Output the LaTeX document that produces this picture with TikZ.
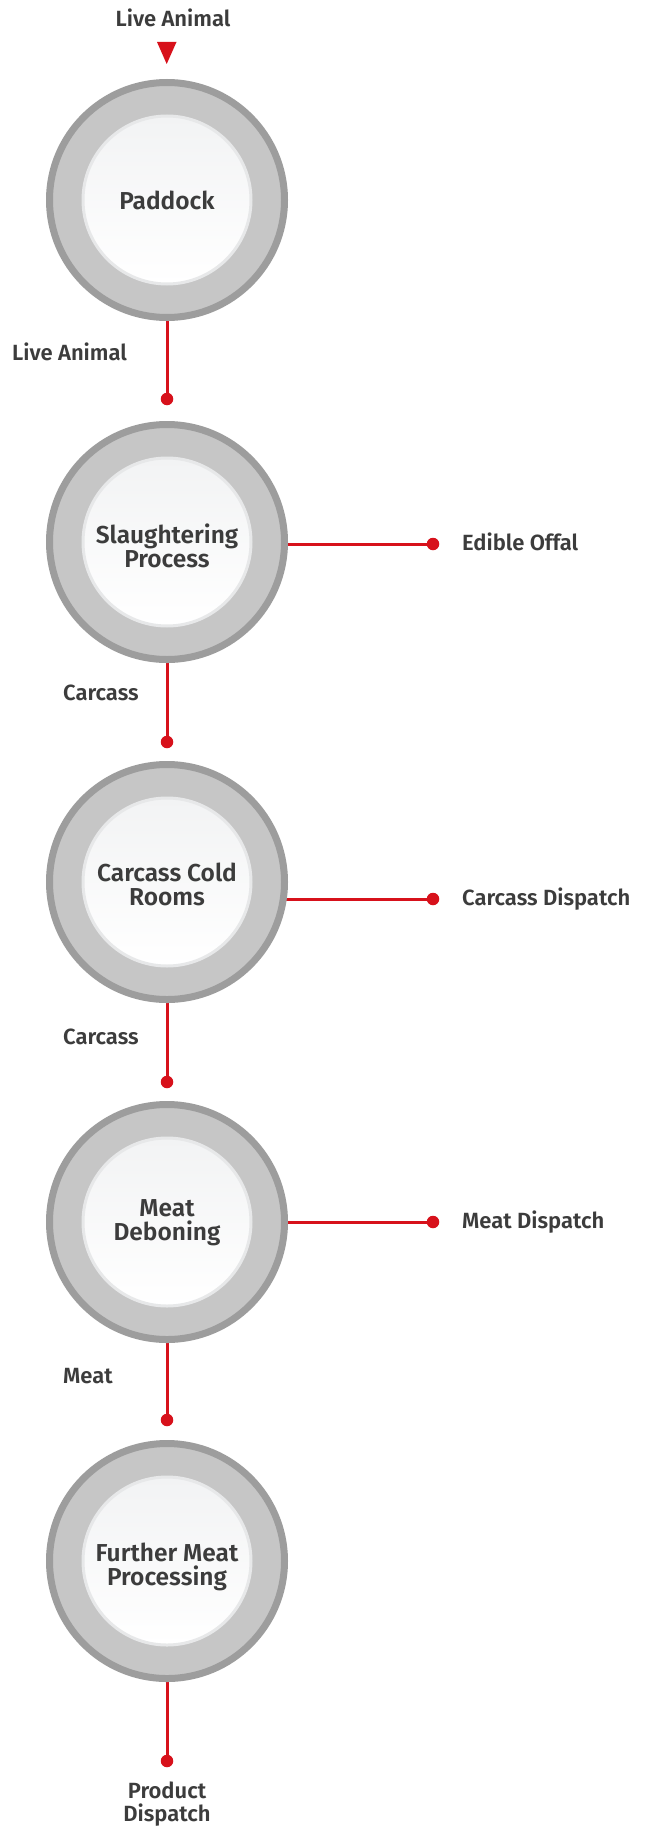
\documentclass[tikz,border=0pt]{standalone}
\usepackage{fontspec}
\setmainfont{Fira Sans}[BoldFont={Fira Sans SemiBold}]
\usetikzlibrary{backgrounds}
\definecolor{ringdark}{HTML}{9D9D9D}
\definecolor{ringfill}{HTML}{C6C6C6}
\definecolor{innerline}{HTML}{E7E8E9}
\definecolor{innertop}{HTML}{F2F3F4}
\definecolor{innerbot}{HTML}{FFFFFF}
\definecolor{flowred}{HTML}{D7111B}
\definecolor{txt}{HTML}{3C3C3C}
\tikzset{
  outerring/.style={circle, draw=ringdark, line width=7pt, fill=ringfill, minimum size=235pt, inner sep=0pt},
  innerdisc/.style={circle, draw=innerline, line width=3pt, minimum size=168pt, inner sep=0pt,
     shade, shading angle=135, top color=innertop, bottom color=innerbot},
  steptext/.style={align=center, text=txt, font=\bfseries\fontsize{24.5}{24}\selectfont},
  lbl/.style={text=txt, font=\bfseries\fontsize{22}{25}\selectfont, inner sep=0pt},
  dotnode/.style={circle, fill=flowred, minimum size=12.5pt, inner sep=0pt},
  redline/.style={draw=flowred, line width=3pt},
}
\begin{document}
\begin{tikzpicture}[x=1pt,y=-1pt]
\useasboundingbox (0,0) rectangle (645,1827);

% circles
\foreach \n/\y in {1/200,2/542,3/882,4/1222,5/1561}{
  \node[outerring] (c\n) at (167,\y) {};
  \node[innerdisc] (i\n) at (167,\y) {};
}
\node[steptext] (t1) at (167,200) {Paddock};
\node[steptext] (t2) at (167,546) {Slaughtering\\Process};
\node[steptext] (t3) at (167,884) {Carcass Cold\\Rooms};
\node[steptext] (t4) at (167,1223) {Meat\\Deboning};
\node[steptext] (t5) at (167,1567) {Further Meat\\Processing};

% top input
\node[lbl, anchor=mid] (top) at (173,24) {Live Animal};
\fill[flowred] (157,42) -- (176.5,42) -- (166.7,64) -- cycle;

% vertical dots
\node[dotnode] (d1) at (167,399) {};
\node[dotnode] (d2) at (167,742) {};
\node[dotnode] (d3) at (167,1082) {};
\node[dotnode] (d4) at (167,1420) {};
\node[dotnode] (d5) at (167,1761) {};

% right dots
\node[dotnode] (r2) at (433,544) {};
\node[dotnode] (r3) at (433,899) {};
\node[dotnode] (r4) at (433,1222) {};

\begin{scope}[on background layer]
\fill[white] (0,0) rectangle (645,1827);
\foreach \n in {1,...,5}{ \draw[redline] (c\n.center) -- (d\n.center); }
\draw[redline] (c2.center |- r2) -- (r2.center);
\draw[redline] (c3.center |- r3) -- (r3.center);
\draw[redline] (c4.center |- r4) -- (r4.center);
\end{scope}

% labels
\node[lbl, anchor=mid west] (l1) at (12,358) {Live Animal};
\node[lbl, anchor=mid west] (l2) at (63,698) {Carcass};
\node[lbl, anchor=mid west] (l3) at (63,1042) {Carcass};
\node[lbl, anchor=mid west] (l4) at (63,1381) {Meat};
\node[lbl, anchor=mid west] (o2) at (462,548) {Edible Offal};
\node[lbl, anchor=mid west] (o3) at (462,903) {Carcass Dispatch};
\node[lbl, anchor=mid west] (o4) at (462,1226) {Meat Dispatch};
\node[lbl, align=center, font=\bfseries\fontsize{22}{23}\selectfont] (pd) at (167,1804) {Product\\Dispatch};
\end{tikzpicture}
\end{document}
